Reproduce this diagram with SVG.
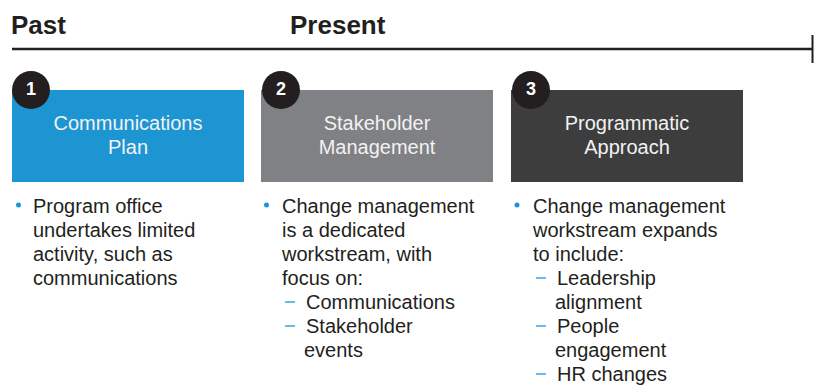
<svg xmlns="http://www.w3.org/2000/svg" width="815" height="385" viewBox="0 0 815 385">
<style>
.hdr{font-family:"Liberation Sans",Arial,sans-serif;font-weight:bold;font-size:26px;fill:#231f20}
.ttl{font-family:"Liberation Sans",Arial,sans-serif;font-size:20px;fill:#f2f2f2;text-anchor:middle}
.num{font-family:"Liberation Sans",Arial,sans-serif;font-weight:bold;font-size:18px;fill:#ffffff;text-anchor:middle}
.txt{font-family:"Liberation Sans",Arial,sans-serif;font-size:20px;fill:#231f20}
.dot{fill:#1e95d3}
.dash{stroke:#1e95d3;stroke-width:1.3}
.badge{fill:#231f20}
</style>
<g id="timeline">
<text class="hdr" x="11" y="34">Past</text>
<text class="hdr" x="290" y="34">Present</text>
</g>
<g id="connectors">
<line x1="12" y1="49" x2="812" y2="49" stroke="#231f20" stroke-width="2.5"/>
<line x1="812.5" y1="35" x2="812.5" y2="63" stroke="#231f20" stroke-width="2"/>
</g>
<g id="node1">
<rect x="12" y="90" width="232" height="92" fill="#1e95d3"/>
<circle class="badge" cx="31" cy="90" r="19"/>
<text class="num" x="31" y="95">1</text>
<text class="ttl" x="128" y="130">Communications</text>
<text class="ttl" x="128" y="154">Plan</text>
</g>
<g id="node2">
<rect x="261" y="90" width="232" height="92" fill="#808184"/>
<circle class="badge" cx="281" cy="90" r="19"/>
<text class="num" x="281" y="95">2</text>
<text class="ttl" x="377" y="130">Stakeholder</text>
<text class="ttl" x="377" y="154">Management</text>
</g>
<g id="node3">
<rect x="511" y="90" width="232" height="92" fill="#3d3d3d"/>
<circle class="badge" cx="531" cy="90" r="19"/>
<text class="num" x="531" y="95">3</text>
<text class="ttl" x="627" y="130">Programmatic</text>
<text class="ttl" x="627" y="154">Approach</text>
</g>
<g id="list1">
<circle class="dot" cx="18.5" cy="205" r="2.5"/>
<text class="txt" x="33" y="213">Program office</text>
<text class="txt" x="33" y="237">undertakes limited</text>
<text class="txt" x="33" y="261">activity, such as</text>
<text class="txt" x="33" y="285">communications</text>
</g>
<g id="list2">
<circle class="dot" cx="266.5" cy="205" r="2.5"/>
<text class="txt" x="282" y="213">Change management</text>
<text class="txt" x="282" y="237">is a dedicated</text>
<text class="txt" x="282" y="261">workstream, with</text>
<text class="txt" x="282" y="285">focus on:</text>
<line class="dash" x1="285" y1="302" x2="295" y2="302"/>
<text class="txt" x="306" y="309">Communications</text>
<line class="dash" x1="285" y1="326" x2="295" y2="326"/>
<text class="txt" x="306" y="333">Stakeholder</text>
<text class="txt" x="304" y="357">events</text>
</g>
<g id="list3">
<circle class="dot" cx="517" cy="205" r="2.5"/>
<text class="txt" x="533" y="213">Change management</text>
<text class="txt" x="533" y="237">workstream expands</text>
<text class="txt" x="533" y="261">to include:</text>
<line class="dash" x1="536" y1="278" x2="546" y2="278"/>
<text class="txt" x="557" y="285">Leadership</text>
<text class="txt" x="555" y="309">alignment</text>
<line class="dash" x1="536" y1="326" x2="546" y2="326"/>
<text class="txt" x="557" y="333">People</text>
<text class="txt" x="555" y="357">engagement</text>
<line class="dash" x1="536" y1="374" x2="546" y2="374"/>
<text class="txt" x="557" y="381">HR changes</text>
</g>
</svg>
